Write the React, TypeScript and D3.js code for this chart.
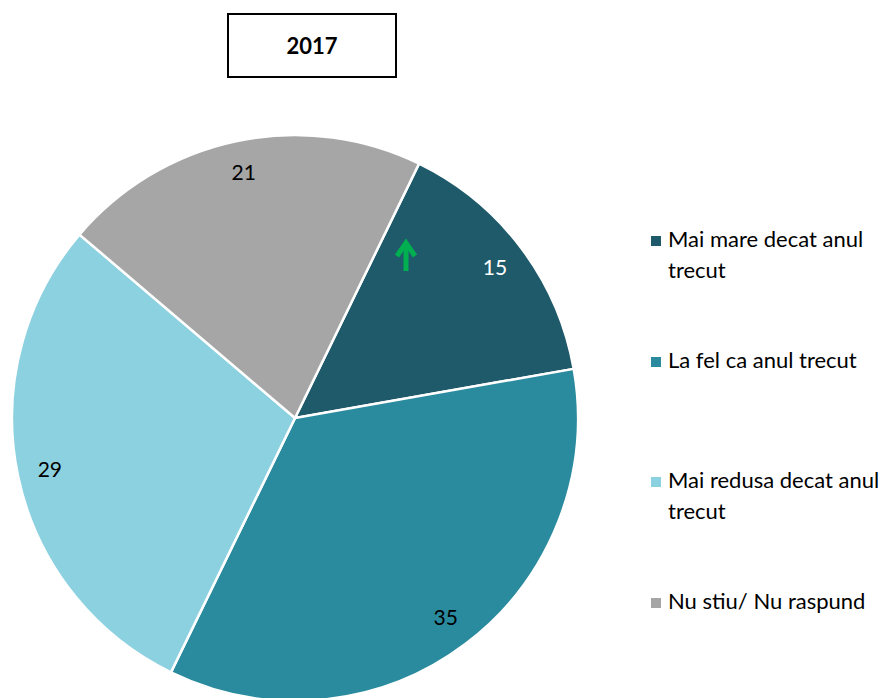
import React from 'react';
import * as d3 from 'd3';

const categories = ['Mai mare decat anul trecut', 'La fel ca anul trecut', 'Mai redusa decat anul trecut', 'Nu stiu/ Nu raspund'];
const legendLines = [['Mai mare decat anul', 'trecut'], ['La fel ca anul trecut'], ['Mai redusa decat anul', 'trecut'], ['Nu stiu/ Nu raspund']];
const values = [15, 35, 29, 21];
const colors = ['#1F5A6A', '#2A8A9E', '#8CD1E0', '#A6A6A6'];
const labelColors = ['#FFFFFF', '#000000', '#000000', '#000000'];
const title = '2017';

const W = 890;
const H = 698;
const cx = 295;
const cy = 418;
const R = 283;
const startDeg = 26;

export default function App() {
  const pie = d3.pie<number>()
    .sort(null)
    .startAngle((startDeg * Math.PI) / 180)
    .endAngle((startDeg * Math.PI) / 180 + 2 * Math.PI);
  const arcs = pie(values);
  const arc = d3.arc<d3.PieArcDatum<number>>().innerRadius(0).outerRadius(R);
  const labelArc = d3.arc<d3.PieArcDatum<number>>().innerRadius(R * 0.885).outerRadius(R * 0.885);

  const font = "Lato, 'Open Sans', sans-serif";
  const legendY = [241, 362, 482, 603];

  return (
    <svg width={W} height={H} style={{ position: 'absolute', left: 0, top: 0 }} fontFamily={font}>
      <rect width={W} height={H} fill="#fff" />
      <g transform={`translate(${cx},${cy})`}>
        {arcs.map((a, i) => (
          <path key={i} d={arc(a) || ''} fill={colors[i]} stroke="#fff" strokeWidth={2.5} />
        ))}
        {arcs.map((a, i) => {
          const [x, y] = labelArc.centroid(a);
          return (
            <text key={i} x={x} y={y} dy="0.35em" textAnchor="middle" fontSize={21} fill={labelColors[i]}>
              {values[i]}
            </text>
          );
        })}
      </g>
      {/* green up arrow on first slice */}
      <g stroke="#00B050" strokeWidth={5} fill="none">
        <line x1={406} y1={271} x2={406} y2={244} />
        <polyline points="397,256 406,243 415,256" strokeLinejoin="miter" strokeLinecap="butt" />
      </g>
      <rect x={228} y={14} width={168} height={63} fill="#fff" stroke="#000" strokeWidth={2} />
      <text x={312} y={46} dy="0.35em" textAnchor="middle" fontSize={22} fontWeight="bold" fill="#000">
        {title}
      </text>
      {categories.map((c, i) => (
        <g key={c}>
          <rect x={651} y={legendY[i] - 5} width={10} height={10} fill={colors[i]} />
          {legendLines[i].map((ln, j) => (
            <text key={j} x={668} y={legendY[i] + 6 + j * 31} fontSize={22} fill="#000">
              {ln}
            </text>
          ))}
        </g>
      ))}
    </svg>
  );
}
